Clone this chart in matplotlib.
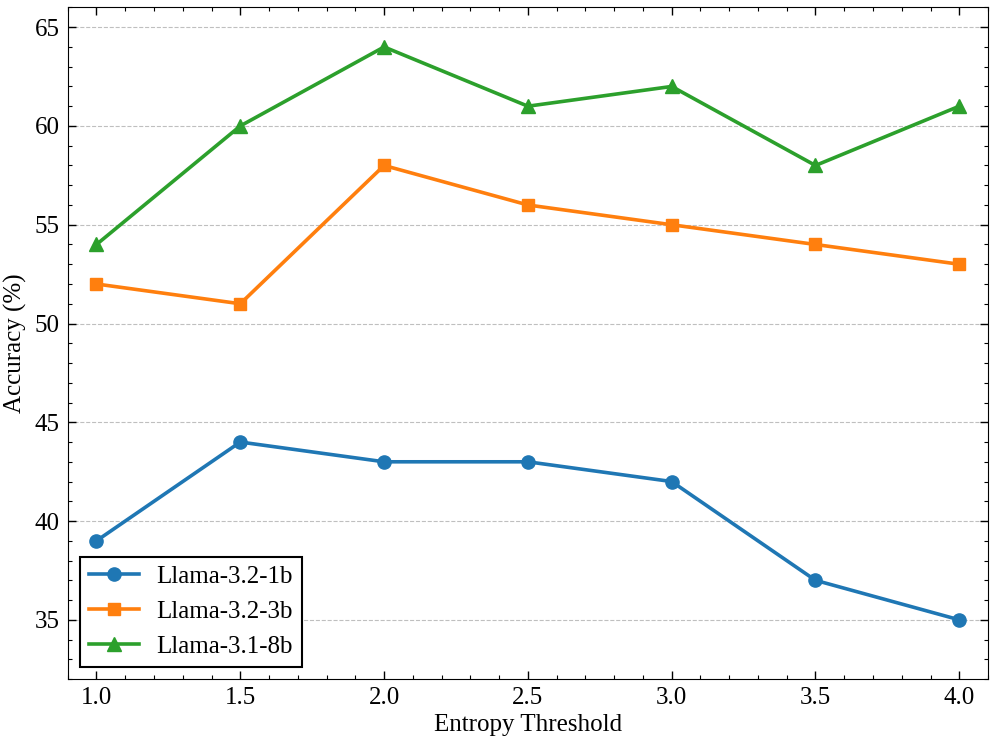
import matplotlib.pyplot as plt
import numpy as np
from matplotlib.ticker import MultipleLocator

plt.rcParams['font.family'] = ['Liberation Serif', 'DejaVu Serif']

thresholds = [1.0, 1.5, 2.0, 2.5, 3.0, 3.5, 4.0]
llama_1b = [39, 44, 43, 43, 42, 37, 35]
llama_3b = [52, 51, 58, 56, 55, 54, 53]
llama_8b = [54, 60, 64, 61, 62, 58, 61]

fig, ax = plt.subplots(figsize=(9.96, 7.43), dpi=100)

ax.plot(thresholds, llama_1b, marker='o', color='#1f77b4', lw=2.6, ms=9.5, label='Llama-3.2-1b')
ax.plot(thresholds, llama_3b, marker='s', color='#ff7f0e', lw=2.6, ms=9, label='Llama-3.2-3b')
ax.plot(thresholds, llama_8b, marker='^', color='#2ca02c', lw=2.6, ms=10, label='Llama-3.1-8b')

ax.set_xlim(0.9, 4.1)
ax.set_ylim(32, 66)
ax.set_xticks(thresholds)
ax.set_yticks([35, 40, 45, 50, 55, 60, 65])
ax.xaxis.set_minor_locator(MultipleLocator(0.1))
ax.yaxis.set_minor_locator(MultipleLocator(1))
ax.tick_params(which='both', direction='in', top=True, right=True, labelsize=18)
ax.tick_params(which='major', length=6, width=1, pad=6)
ax.tick_params(which='minor', length=3, width=0.8)

ax.grid(axis='y', linestyle='--', color='#b0b0b0', linewidth=0.8, alpha=0.8)
ax.set_axisbelow(True)

ax.set_xlabel('Entropy Threshold', fontsize=18, labelpad=3)
ax.set_ylabel('Accuracy (%)', fontsize=18, labelpad=5)

leg = ax.legend(loc='lower left', fontsize=18, frameon=True, fancybox=False,
                edgecolor='black', framealpha=1, handlelength=2.0,
                handletextpad=0.7, borderaxespad=0.5, labelspacing=0.5,
                borderpad=0.35)
leg.get_frame().set_linewidth(1.5)

plt.subplots_adjust(left=0.068, right=0.992, top=0.99, bottom=0.086)
plt.savefig('out.png', dpi=100)
